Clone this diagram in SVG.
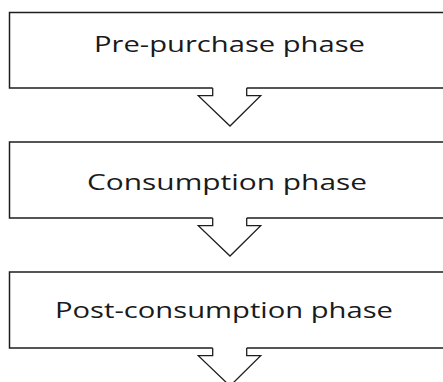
<svg xmlns="http://www.w3.org/2000/svg" width="443" height="382" viewBox="0 0 443 382">
<style>
.box{fill:none;stroke:#1e1e1e;stroke-width:1.5}
.arr{fill:#fff;stroke:#1e1e1e;stroke-width:1.3;stroke-linejoin:miter}
.lbl{font-family:"Open Sans","DejaVu Sans",sans-serif;font-size:22px;fill:#1a1a1a}
</style>
<rect width="443" height="382" fill="#fff"/>
<g id="node-prepurchase">
<path class="box" d="M212.7 88 H9.5 V12.5 H452 V88 H246.7"/>
<text class="lbl" x="94" y="51.7" textLength="271" lengthAdjust="spacingAndGlyphs">Pre-purchase phase</text>
</g>
<g id="node-consumption">
<path class="box" d="M212.7 218 H9.5 V142 H452 V218 H246.7"/>
<text class="lbl" x="87" y="190" textLength="280" lengthAdjust="spacingAndGlyphs">Consumption phase</text>
</g>
<g id="node-postconsumption">
<path class="box" d="M212.7 348 H9.5 V272 H452 V348 H246.7"/>
<text class="lbl" x="55" y="317.7" textLength="338" lengthAdjust="spacingAndGlyphs">Post-consumption phase</text>
</g>
<g id="connectors">
<path class="arr" d="M212.7 88 V95.7 H198.3 L230 126 L260.7 95.7 H246.7 V88"/>
<path class="arr" d="M212.7 218 V225.7 H198.3 L230 256 L260.7 225.7 H246.7 V218"/>
<path class="arr" d="M212.7 348 V355.7 H198.3 L230 386 L260.7 355.7 H246.7 V348"/>
</g>
</svg>
